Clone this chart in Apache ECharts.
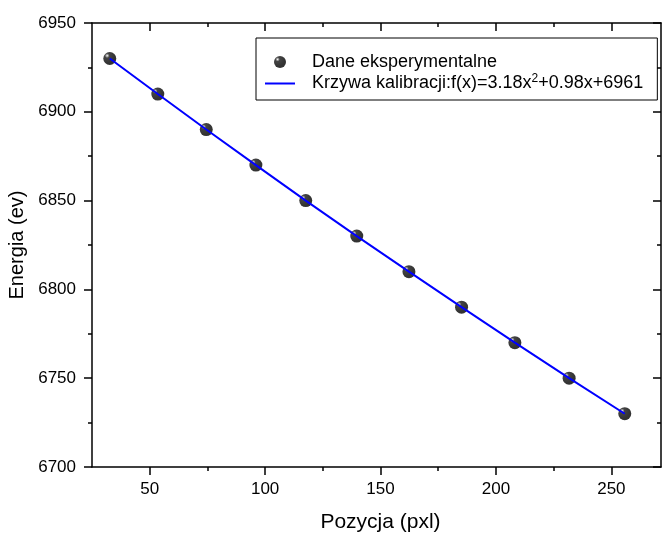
<!DOCTYPE html>
<html>
<head>
<meta charset="utf-8">
<script src="https://cdn.jsdelivr.net/npm/echarts@6/dist/echarts.min.js"></script>
<style>
html,body{margin:0;padding:0;background:#fff;}
#chart{width:662px;height:534px;}
</style>
</head>
<body>
<div id="chart"></div>
<script>
// ---- data ----
const xPositions = [32.7, 53.5, 74.5, 96.0, 117.6, 139.7, 162.3, 185.1, 208.2, 231.7, 255.8];
const energies   = [6930, 6910, 6890, 6870, 6850, 6830, 6810, 6790, 6770, 6750, 6730];
const xMajorTicks = [50, 100, 150, 200, 250];
const xMinorTicks = [75, 125, 175, 225];
const seriesNames = ['Dane eksperymentalne', 'Krzywa kalibracji'];
const fitLabelParts = ['Krzywa kalibracji:f(x)=3.18x', '2', '+0.98x+6961'];
const xTitle = 'Pozycja (pxl)';
const yTitle = 'Energia (ev)';

const FONT = 'Liberation Sans, Arial, sans-serif';
const points = xPositions.map((x, i) => [x, energies[i]]);

const X_MIN = 25, X_MAX = 271.5;
const lineStyleAxis = {color: '#000', width: 1.5};

function xAx(opts) {
  return Object.assign({
    type: 'value', min: X_MIN, max: X_MAX, gridIndex: 0,
    splitLine: {show: false},
    axisLine: {show: false, onZero: false, lineStyle: lineStyleAxis},
    axisTick: {show: false},
    axisLabel: {show: false},
  }, opts);
}

const option = {
  animation: false,
  backgroundColor: '#fff',
  grid: {left: 92, top: 23, right: 1, bottom: 67, containLabel: false, outerBoundsMode: 'none'},
  xAxis: [
    xAx({
      position: 'bottom',
      name: xTitle, nameLocation: 'middle', nameGap: 45,
      nameTextStyle: {fontFamily: FONT, fontSize: 21, color: '#000', padding: [0, 0, 0, 8]},
      axisLine: {show: true, onZero: false, lineStyle: lineStyleAxis},
      axisTick: {show: true, inside: false, length: 8, lineStyle: {color: '#000', width: 1.5}, customValues: xMajorTicks},
      axisLabel: {show: true, margin: 14, fontFamily: FONT, fontSize: 17, color: '#000', customValues: xMajorTicks}
    }),
    xAx({
      position: 'top',
      axisLine: {show: true, onZero: false, lineStyle: lineStyleAxis},
      axisTick: {show: true, inside: true, length: 8, lineStyle: {color: '#000', width: 1.5}, customValues: xMajorTicks}
    }),
    xAx({
      position: 'bottom',
      axisTick: {show: true, inside: false, length: 4, lineStyle: {color: '#000', width: 1.5}, customValues: xMinorTicks}
    }),
    xAx({
      position: 'top',
      axisTick: {show: true, inside: true, length: 4, lineStyle: {color: '#000', width: 1.5}, customValues: xMinorTicks}
    })
  ],
  yAxis: [
    {
      type: 'value', min: 6700, max: 6950, interval: 50, position: 'left',
      name: yTitle, nameLocation: 'middle', nameGap: 57, nameRotate: 90,
      nameTextStyle: {fontFamily: FONT, fontSize: 20, color: '#000'},
      splitLine: {show: false},
      axisLine: {show: true, onZero: false, lineStyle: lineStyleAxis},
      axisTick: {show: true, inside: false, length: 8, lineStyle: {color: '#000', width: 1.5}},
      minorTick: {show: true, splitNumber: 2, length: 4, lineStyle: {color: '#000', width: 1.5}},
      axisLabel: {margin: 16, fontFamily: FONT, fontSize: 17, color: '#000', formatter: v => String(v)}
    },
    {
      type: 'value', min: 6700, max: 6950, interval: 50, position: 'right',
      splitLine: {show: false},
      axisLine: {show: true, onZero: false, lineStyle: lineStyleAxis},
      axisTick: {show: true, inside: true, length: 8, lineStyle: {color: '#000', width: 1.5}},
      minorTick: {show: true, splitNumber: 2, length: 4, lineStyle: {color: '#000', width: 1.5}},
      axisLabel: {show: false}
    }
  ],
  legend: {
    orient: 'vertical', left: 256, top: 38,
    borderColor: '#000', borderWidth: 1,
    padding: [15, 14, 6, 9], itemGap: 2,
    itemWidth: 30, itemHeight: 12,
    data: [
      {name: seriesNames[0], icon: 'circle'},
      {name: seriesNames[1], icon: 'path://M0,0H30V2H0Z', itemStyle: {color: '#0000ff'}}
    ],
    formatter: function (name) {
      if (name === seriesNames[1]) {
        return '{a|' + fitLabelParts[0] + '}{s|' + fitLabelParts[1] + '}{a|' + fitLabelParts[2] + '}';
      }
      return '{a|' + name + '}';
    },
    textStyle: {
      fontFamily: FONT, fontSize: 18, color: '#000', padding: [0, 0, 0, 12],
      rich: {
        a: {fontFamily: FONT, fontSize: 18, color: '#000', lineHeight: 20},
        s: {fontFamily: FONT, fontSize: 12, color: '#000', lineHeight: 20, padding: [0, 0, 9, 0]}
      }
    }
  },
  series: [
    {
      name: seriesNames[0], type: 'scatter', xAxisIndex: 0, yAxisIndex: 0,
      data: points, symbol: 'circle', symbolSize: 13, z: 2,
      itemStyle: {
        color: {
          type: 'radial', x: 0.3, y: 0.28, r: 0.6,
          colorStops: [
            {offset: 0, color: '#ffffff'},
            {offset: 0.1, color: '#a8a8a8'},
            {offset: 0.3, color: '#151515'},
            {offset: 1, color: '#000000'}
          ]
        }
      }
    },
    {
      name: seriesNames[1], type: 'line', xAxisIndex: 0, yAxisIndex: 0,
      data: points, symbol: 'none', showSymbol: false, z: 3,
      lineStyle: {color: '#0000ff', width: 2},
      itemStyle: {color: '#0000ff'}
    }
  ]
};

const chart = echarts.init(document.getElementById('chart'), null, {renderer: 'canvas'});
chart.setOption(option);
</script>
</body>
</html>
